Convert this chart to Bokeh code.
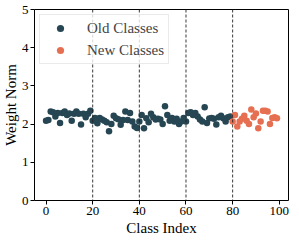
from bokeh.plotting import figure
from bokeh.models import Span, Legend, LegendItem, Range1d, FixedTicker, Title
from bokeh.embed import file_html
from bokeh.resources import INLINE

old_idx = list(range(0, 80))
old_norm = [2.09, 2.11, 2.33, 2.31, 2.20, 2.29, 2.03, 2.29, 2.33, 2.24,
            2.28, 2.09, 2.27, 2.33, 2.27, 1.99, 2.27, 2.18, 2.27, 2.35,
            2.09, 2.16, 2.02, 2.16, 2.12, 2.09, 2.05, 1.81, 2.00, 2.22,
            2.15, 2.13, 1.98, 2.11, 2.33, 2.11, 2.29, 2.07, 1.94, 1.90,
            2.07, 2.24, 1.89, 2.15, 2.05, 2.27, 2.18, 2.12, 2.14, 2.12,
            2.00, 2.47, 2.24, 2.09, 2.16, 2.07, 2.14, 2.00, 2.07, 2.16,
            2.07, 2.29, 2.31, 2.24, 2.29, 2.20, 2.12, 2.07, 2.44, 2.03,
            2.15, 2.16, 2.14, 1.99, 2.18, 2.22, 2.15, 2.07, 2.18, 2.20]
new_idx = list(range(80, 100))
new_norm = [2.07, 2.24, 1.94, 2.07, 2.14, 2.22, 2.09, 2.00, 2.38, 2.18,
            2.28, 1.89, 2.07, 2.35, 2.35, 2.33, 2.00, 2.16, 2.18, 2.15]
session_bounds = [20, 40, 60, 80]
x_ticks = [0, 20, 40, 60, 80, 100]
y_ticks = [0, 1, 2, 3, 4, 5]
x_label = "Class Index"
y_label = "Weight Norm"

FONT = "Liberation Serif"

p = figure(width=291, height=235, output_backend="svg", toolbar_location=None,
           x_range=Range1d(-4.95, 103.95), y_range=Range1d(0, 5),
           min_border_left=0, min_border_top=9, min_border_right=3, min_border_bottom=0)
p.xgrid.visible = False
p.ygrid.visible = False
p.outline_line_color = "black"
p.outline_line_width = 1
p.background_fill_color = "white"
p.border_fill_color = "white"

for b in session_bounds:
    p.add_layout(Span(location=b, dimension="height", line_color="#222222",
                      line_dash="3 2", line_width=0.9))

r_old = p.scatter(old_idx, old_norm, size=6.5, color="#264653", line_color=None)
r_new = p.scatter(new_idx, new_norm, size=6.5, color="#e76f51", line_color=None)

for ax in (p.xaxis[0], p.yaxis[0]):
    ax.axis_line_color = None
    ax.major_tick_line_color = "black"
    ax.major_tick_out = 4
    ax.major_tick_in = 0
    ax.minor_tick_line_color = None
    ax.major_label_text_font = FONT
    ax.major_label_text_font_size = "13px"
    ax.major_label_text_color = "black"
    ax.major_label_standoff = 2

p.xaxis[0].ticker = FixedTicker(ticks=x_ticks)
p.yaxis[0].ticker = FixedTicker(ticks=y_ticks)

for txt, side in ((x_label, "below"), (y_label, "left")):
    t = Title(text=txt, align="center", text_font=FONT, text_font_size="15px",
              text_font_style="normal", text_color="black", standoff=0, offset=0)
    p.add_layout(t, side)

legend = Legend(items=[LegendItem(label="Old Classes", renderers=[r_old]),
                       LegendItem(label="New Classes", renderers=[r_new])],
                location="top_left")
legend.label_text_font = FONT
legend.label_text_font_size = "15px"
legend.label_height = 18
legend.glyph_height = 18
legend.glyph_width = 32
legend.label_standoff = 11
legend.padding = 4
legend.spacing = 4
legend.margin = 5
legend.border_line_color = "#d5d5d5"
legend.background_fill_alpha = 0.8
p.add_layout(legend)

open("out.html", "w").write(file_html(p, INLINE))
